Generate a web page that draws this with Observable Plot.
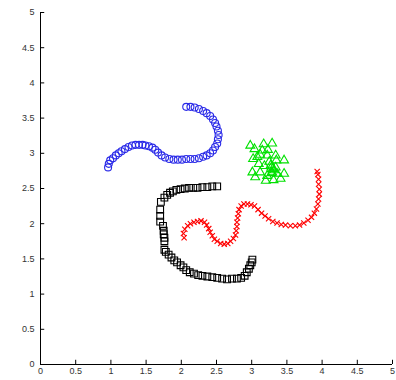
<!DOCTYPE html>
<html>
<head>
<meta charset="utf-8">
<script src="https://cdn.jsdelivr.net/npm/d3@7"></script>
<script src="https://cdn.jsdelivr.net/npm/@observablehq/plot@0.6"></script>
<style>
  html, body { margin: 0; padding: 0; background: #fff; }
  #chart svg { display: block; }
</style>
</head>
<body>
<div id="chart"></div>
<script>
const xTicks = [0, 0.5, 1, 1.5, 2, 2.5, 3, 3.5, 4, 4.5, 5];
const yTicks = [0, 0.5, 1, 1.5, 2, 2.5, 3, 3.5, 4, 4.5, 5];

const blueX = [0.96,0.97,0.99,1.03,1.07,1.11,1.15,1.20,1.25,1.30,1.35,1.40,1.45,1.49,1.54,1.59,1.63,1.67,1.72,1.77,1.83,1.89,1.95,2.01,2.07,2.13,2.19,2.25,2.31,2.36,2.41,2.45,2.48,2.51,2.52,2.53,2.52,2.50,2.48,2.45,2.41,2.36,2.31,2.25,2.19,2.13,2.07];
const blueY = [2.80,2.85,2.90,2.93,2.97,3.00,3.03,3.06,3.09,3.11,3.12,3.12,3.12,3.11,3.10,3.08,3.05,3.01,2.97,2.94,2.92,2.91,2.91,2.91,2.92,2.92,2.92,2.93,2.95,2.97,3.00,3.04,3.09,3.14,3.20,3.26,3.32,3.38,3.43,3.48,3.53,3.57,3.60,3.63,3.65,3.66,3.66];

const blackX = [2.51,2.44,2.37,2.30,2.23,2.17,2.11,2.05,1.99,1.93,1.88,1.84,1.80,1.76,1.71,1.70,1.70,1.70,1.74,1.75,1.75,1.76,1.76,1.76,1.78,1.82,1.86,1.90,1.94,1.99,2.03,2.07,2.12,2.18,2.24,2.30,2.37,2.44,2.51,2.58,2.65,2.72,2.79,2.85,2.90,2.93,2.96,2.98,3.00,3.01];
const blackY = [2.53,2.53,2.52,2.52,2.51,2.51,2.51,2.50,2.49,2.48,2.46,2.44,2.41,2.37,2.31,2.20,2.11,2.03,1.97,1.90,1.85,1.80,1.75,1.63,1.60,1.56,1.52,1.48,1.45,1.41,1.38,1.34,1.31,1.29,1.27,1.26,1.25,1.24,1.23,1.22,1.21,1.22,1.22,1.23,1.26,1.31,1.36,1.41,1.45,1.49];

const redX = [2.04,2.03,2.05,2.09,2.13,2.18,2.23,2.28,2.33,2.36,2.39,2.41,2.44,2.47,2.51,2.56,2.61,2.66,2.70,2.74,2.77,2.78,2.79,2.79,2.80,2.81,2.82,2.85,2.89,2.94,2.99,3.04,3.09,3.14,3.19,3.24,3.30,3.36,3.42,3.48,3.55,3.62,3.68,3.74,3.80,3.85,3.89,3.92,3.94,3.95,3.96,3.96,3.95,3.95,3.94,3.93];
const redY = [1.80,1.86,1.92,1.97,2.00,2.02,2.03,2.04,2.02,1.98,1.93,1.88,1.83,1.78,1.75,1.72,1.71,1.72,1.75,1.79,1.84,1.90,1.96,2.02,2.08,2.14,2.20,2.25,2.28,2.28,2.27,2.25,2.20,2.15,2.11,2.07,2.03,2.01,1.99,1.98,1.97,1.97,1.98,2.01,2.05,2.09,2.15,2.21,2.28,2.35,2.42,2.49,2.56,2.63,2.70,2.74];

const greenX = [2.98,3.04,3.17,3.29,3.15,3.08,3.22,3.34,3.46,3.01,3.12,3.27,3.34,3.29,3.36,3.22,3.46,3.41,3.31,3.20,3.05,3.30,3.32,3.28,3.25,3.18,3.10,3.35,3.23,3.12,3.28,3.02];
const greenY = [3.11,3.06,3.13,3.14,3.04,2.95,2.97,2.97,2.90,2.73,2.73,2.83,2.80,2.73,2.71,2.68,2.71,2.64,2.62,2.61,2.66,2.78,2.76,2.80,2.88,2.82,2.85,2.90,3.05,2.98,2.72,2.92];

const toRows = (xs, ys) => xs.map((x, i) => ({x, y: ys[i]}));

const chart = Plot.plot({
  width: 396,
  height: 380,
  marginLeft: 40,
  marginRight: 4,
  marginTop: 12,
  marginBottom: 16,
  style: {fontFamily: "'Liberation Sans', Arial, sans-serif", fontSize: "9px", background: "#fff"},
  x: {domain: [0, 5]},
  y: {domain: [0, 5]},
  marks: [
    Plot.axisX({ticks: xTicks, tickSize: 0, tickPadding: 3, fill: "#333", fontSize: 9, label: null, tickFormat: d => String(d)}),
    Plot.axisY({ticks: yTicks, tickSize: 0, tickPadding: 6, fill: "#333", fontSize: 9, label: null, tickFormat: d => String(d)}),
    Plot.ruleX(xTicks, {x: d => d, y1: 0, y2: 0.06, stroke: "#000"}),
    Plot.ruleY(yTicks, {y: d => d, x1: 0, x2: 0.06, stroke: "#000"}),
    Plot.ruleX([0], {stroke: "#000"}),
    Plot.ruleY([0], {stroke: "#000"}),
    Plot.dot(toRows(blueX, blueY), {x: "x", y: "y", symbol: "circle", r: 3.5, stroke: "#2a2ae8", strokeWidth: 1.1, fill: "none"}),
    Plot.dot(toRows(blackX, blackY), {x: "x", y: "y", symbol: "square", r: 3.8, stroke: "#000", strokeWidth: 1.1, fill: "none"}),
    Plot.dot(toRows(redX, redY), {x: "x", y: "y", symbol: "times", r: 2.5, stroke: "#f00", strokeWidth: 1.1, fill: "none"}),
    Plot.dot(toRows(greenX, greenY), {x: "x", y: "y", symbol: "triangle", r: 3.3, stroke: "#00e000", strokeWidth: 1.1, fill: "none"})
  ]
});
document.getElementById("chart").appendChild(chart);
</script>
</body>
</html>
